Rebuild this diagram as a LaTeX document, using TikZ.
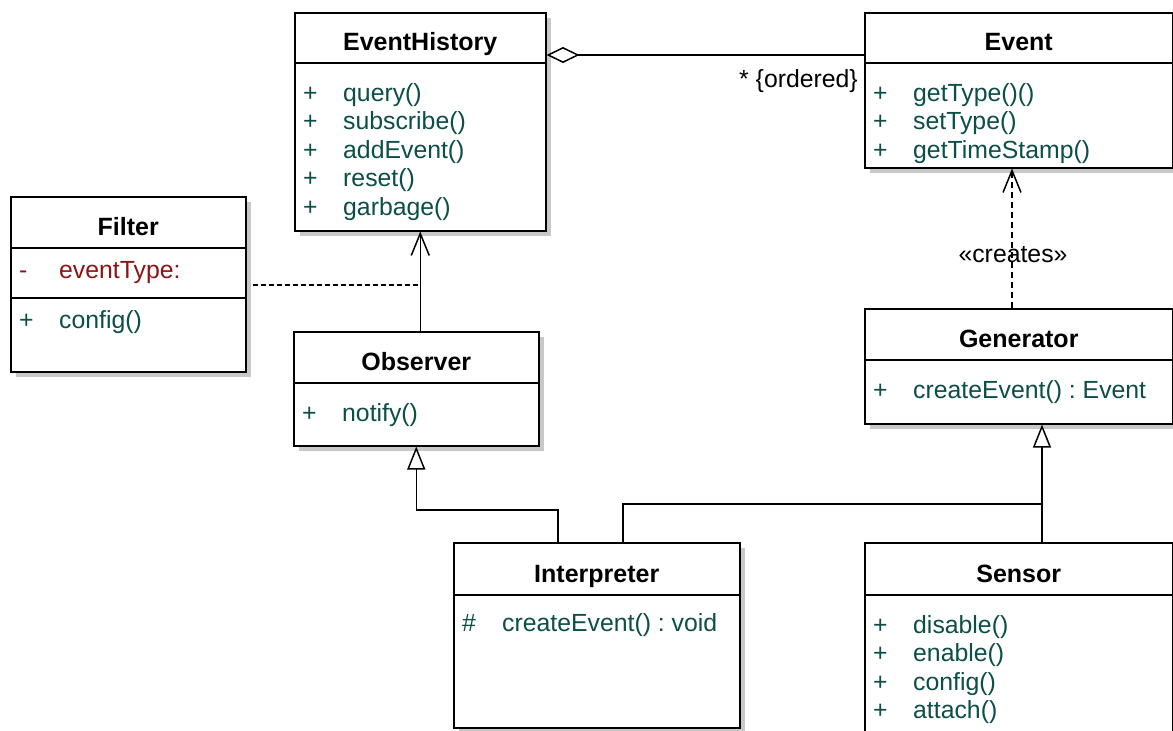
\documentclass[tikz,border=0pt]{standalone}
\usepackage{fontspec}
\setmainfont{Liberation Sans}
\usetikzlibrary{arrows.meta,calc,shadows}
\frenchspacing

\definecolor{optext}{RGB}{12,78,72}
\definecolor{attrtext}{RGB}{140,20,20}
\definecolor{shade}{RGB}{200,200,200}

\tikzset{
  classbox/.style={draw=black, line width=1.5pt, fill=white, anchor=north west,
    inner sep=0pt, drop shadow={shadow xshift=5pt, shadow yshift=-5pt, fill=shade, opacity=1}},
  rule/.style={line width=1.5pt},
  title/.style={font=\fontsize{25}{30}\selectfont\bfseries, inner sep=0pt, anchor=base},
  op/.style={text=optext, font=\fontsize{24.8}{29}\selectfont, inner sep=0pt, anchor=base west},
  attr/.style={op, text=attrtext},
  plainlbl/.style={font=\fontsize{24.8}{29}\selectfont, inner sep=0pt},
  link/.style={line width=1.5pt, line join=miter},
  navarrow/.style={-{Straight Barb[length=22pt,width=18pt]}},
  genarrow/.style={-{Triangle[open,length=23pt,width=18pt]}},
  aggarrow/.style={{Diamond[open,length=33pt,width=16pt]}-},
}

% compartment divider: box name, offset from top edge
\newcommand\umlrule[2]{\draw[rule] ($(#1.north west)+(0,#2)$) -- ($(#1.north east)+(0,#2)$);}
% class title: box name, baseline offset, text
\newcommand\umltitle[3]{\node[title] (#1-title) at ($(#1.north)+(0,#2)$) {#3};}
% member row: style, node name, box name, baseline offset, visibility, text
\newcommand\umlmember[6]{%
  \node[#1] (#2-vis) at ($(#3.north west)+(9,#4)$) {#5};
  \node[#1] (#2) at ($(#3.north west)+(49,#4)$) {#6};}

\begin{document}
\begin{tikzpicture}[x=1pt, y=-1pt]
  \useasboundingbox (0,0) rectangle (1173,731);
  \fill[white] (0,0) rectangle (1173,731);
  \clip (0,0) rectangle (1173,731);

  % class boxes
  \node[classbox, minimum width=251pt, minimum height=218pt] (eh)  at (294,12)  {};
  \node[classbox, minimum width=308pt, minimum height=155pt] (ev)  at (864,12)  {};
  \node[classbox, minimum width=235pt, minimum height=175pt] (flt) at (10,196)  {};
  \node[classbox, minimum width=245pt, minimum height=114pt] (obs) at (293,331) {};
  \node[classbox, minimum width=308pt, minimum height=115pt] (gen) at (864,308) {};
  \node[classbox, minimum width=286pt, minimum height=185pt] (int) at (453,542) {};
  \node[classbox, minimum width=308pt, minimum height=220pt] (sen) at (864,542) {};

  % EventHistory
  \umlrule{eh}{51}
  \umltitle{eh}{38}{EventHistory}
  \umlmember{op}{eh-query}{eh}{89}{+}{query()}
  \umlmember{op}{eh-subscribe}{eh}{117.5}{+}{subscribe()}
  \umlmember{op}{eh-add}{eh}{146}{+}{addEvent()}
  \umlmember{op}{eh-reset}{eh}{174.5}{+}{reset()}
  \umlmember{op}{eh-garbage}{eh}{203}{+}{garbage()}

  % Event
  \umlrule{ev}{51}
  \umltitle{ev}{38}{Event}
  \umlmember{op}{ev-gettype}{ev}{89}{+}{getType()()}
  \umlmember{op}{ev-settype}{ev}{117.5}{+}{setType()}
  \umlmember{op}{ev-stamp}{ev}{146}{+}{getTimeStamp()}

  % Filter
  \umlrule{flt}{52}
  \umlrule{flt}{102}
  \umltitle{flt}{39}{Filter}
  \umlmember{attr}{flt-type}{flt}{82}{-}{eventType:}
  \umlmember{op}{flt-config}{flt}{132}{+}{config()}

  % Observer
  \umlrule{obs}{52}
  \umltitle{obs}{39}{Observer}
  \umlmember{op}{obs-notify}{obs}{90}{+}{notify()}

  % Generator
  \umlrule{gen}{52}
  \umltitle{gen}{39.5}{Generator}
  \umlmember{op}{gen-create}{gen}{90}{+}{createEvent() : Event}

  % Interpreter
  \umlrule{int}{53}
  \umltitle{int}{40}{Interpreter}
  \umlmember{op}{int-create}{int}{89}{\#}{createEvent() : void}

  % Sensor
  \umlrule{sen}{53}
  \umltitle{sen}{40}{Sensor}
  \umlmember{op}{sen-disable}{sen}{91}{+}{disable()}
  \umlmember{op}{sen-enable}{sen}{119.5}{+}{enable()}
  \umlmember{op}{sen-config}{sen}{148}{+}{config()}
  \umlmember{op}{sen-attach}{sen}{176.5}{+}{attach()}

  % aggregation EventHistory <>--- Event
  \coordinate (aggy) at (700,55);
  \draw[link, aggarrow] (aggy -| eh.east) -- (aggy -| ev.west);
  \node[plainlbl, anchor=base east] (ordlbl) at ($(aggy -| ev.west)+(-6,32)$) {* \{ordered\}};

  % Observer navigates to EventHistory
  \draw[link, navarrow] (obs.north -| eh.south) -- (eh.south);

  % Filter attached by a dashed line
  \coordinate (flty) at (0,285);
  \draw[link, dash pattern=on 5pt off 3pt] ($(flty -| flt.east)+(6,0)$) -- (flty -| eh.south);

  % Generator creates Event
  \coordinate (crx) at (1012,0);
  \draw[link, dash pattern=on 6pt off 4pt, navarrow] (crx |- gen.north) -- (crx |- ev.south);
  \node[plainlbl, anchor=base] (crlbl) at ($(crx |- ev.south)+(1,94)$) {«creates»};

  % Interpreter specialises Observer
  \coordinate (intl) at (558,510);
  \draw[link, genarrow] (intl |- int.north) -- (intl) -- (intl -| obs.south) -- (obs.south);

  % Interpreter and Sensor specialise Generator
  \coordinate (intr) at (623,504);
  \coordinate (genbus) at (1042,504);
  \draw[link, genarrow] (intr |- int.north) -- (intr) -- (genbus) -- (genbus |- gen.south);
  \draw[link] (genbus |- sen.north) -- (genbus);
\end{tikzpicture}
\end{document}
